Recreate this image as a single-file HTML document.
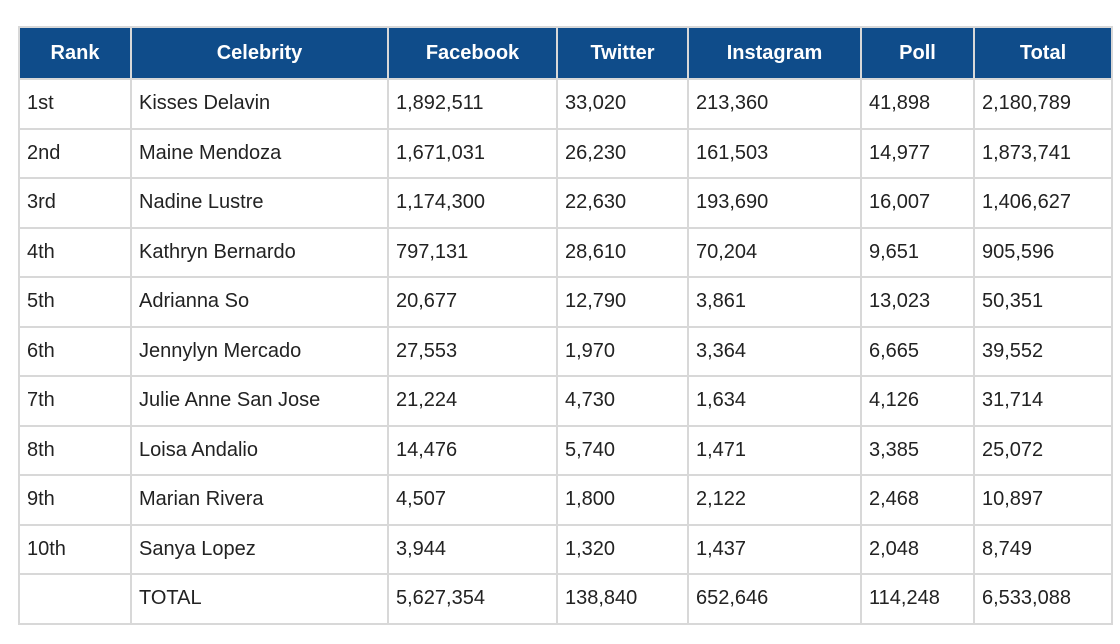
<!DOCTYPE html>
<html><head><style>
body{margin:0;width:1120px;height:644px;background:#fff;overflow:hidden;font-family:"Liberation Sans",Arial,sans-serif;}
table{position:absolute;left:18px;top:26px;border-collapse:collapse;table-layout:fixed;width:1093px;}
td,th{border:2px solid #d8d8d8;padding:0 0 0 7px;font-size:20px;color:#222;white-space:nowrap;}
th{background:#0f4c8a;color:#fff;font-weight:bold;text-align:center;padding:0;font-size:20px;}
tr{height:49.5px;}
tr:first-child{height:52px;}
</style></head><body>
<table>
<colgroup><col style="width:112px"><col style="width:257px"><col style="width:169px"><col style="width:131px"><col style="width:173px"><col style="width:113px"><col style="width:138px"></colgroup>
<tr><th>Rank</th><th>Celebrity</th><th>Facebook</th><th>Twitter</th><th>Instagram</th><th>Poll</th><th>Total</th></tr>
<tr><td>1st</td><td>Kisses Delavin</td><td>1,892,511</td><td>33,020</td><td>213,360</td><td>41,898</td><td>2,180,789</td></tr>
<tr><td>2nd</td><td>Maine Mendoza</td><td>1,671,031</td><td>26,230</td><td>161,503</td><td>14,977</td><td>1,873,741</td></tr>
<tr><td>3rd</td><td>Nadine Lustre</td><td>1,174,300</td><td>22,630</td><td>193,690</td><td>16,007</td><td>1,406,627</td></tr>
<tr><td>4th</td><td>Kathryn Bernardo</td><td>797,131</td><td>28,610</td><td>70,204</td><td>9,651</td><td>905,596</td></tr>
<tr><td>5th</td><td>Adrianna So</td><td>20,677</td><td>12,790</td><td>3,861</td><td>13,023</td><td>50,351</td></tr>
<tr><td>6th</td><td>Jennylyn Mercado</td><td>27,553</td><td>1,970</td><td>3,364</td><td>6,665</td><td>39,552</td></tr>
<tr><td>7th</td><td>Julie Anne San Jose</td><td>21,224</td><td>4,730</td><td>1,634</td><td>4,126</td><td>31,714</td></tr>
<tr><td>8th</td><td>Loisa Andalio</td><td>14,476</td><td>5,740</td><td>1,471</td><td>3,385</td><td>25,072</td></tr>
<tr><td>9th</td><td>Marian Rivera</td><td>4,507</td><td>1,800</td><td>2,122</td><td>2,468</td><td>10,897</td></tr>
<tr><td>10th</td><td>Sanya Lopez</td><td>3,944</td><td>1,320</td><td>1,437</td><td>2,048</td><td>8,749</td></tr>
<tr><td></td><td>TOTAL</td><td>5,627,354</td><td>138,840</td><td>652,646</td><td>114,248</td><td>6,533,088</td></tr>
</table>
</body></html>
